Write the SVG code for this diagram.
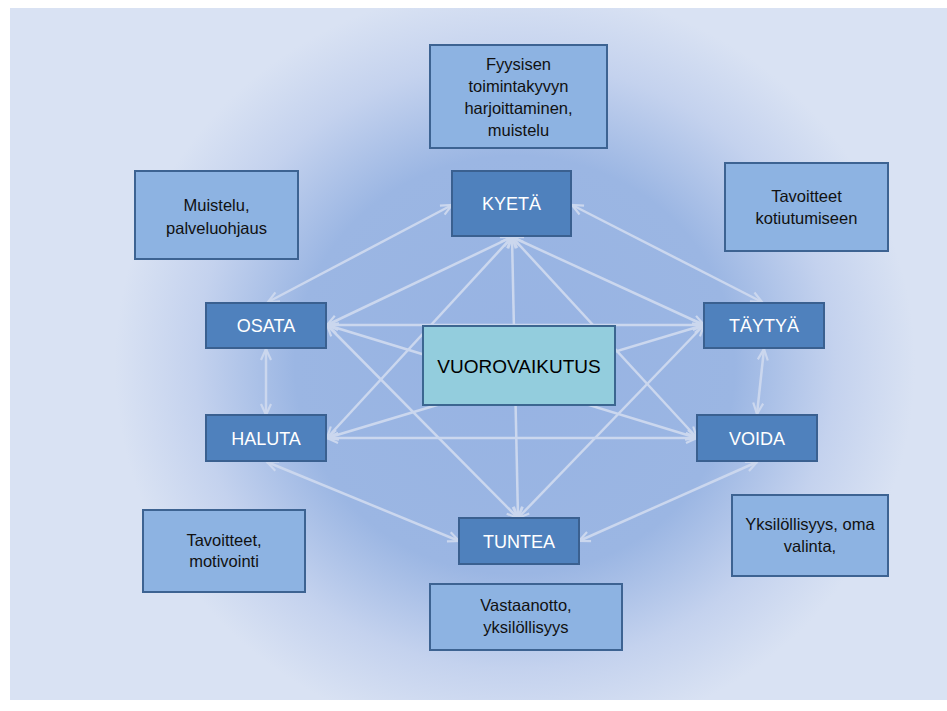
<svg xmlns="http://www.w3.org/2000/svg" width="947" height="711" viewBox="0 0 947 711">
<style>
.main{fill:#4f81bd;stroke:#3a6090;stroke-width:2}
.info{fill:#8db3e2;stroke:#3d6392;stroke-width:2}
.center{fill:#93cddd;stroke:#3c6690;stroke-width:2}
.lbl{font-family:"Liberation Sans",Arial,sans-serif;font-size:18px;fill:#ffffff;text-anchor:middle}
.clbl{font-family:"Liberation Sans",Arial,sans-serif;font-size:19px;fill:#000000;text-anchor:middle}
.itx{font-family:"Liberation Sans",Arial,sans-serif;font-size:16.5px;fill:#111111;text-anchor:middle}
.con line{stroke:#cbd7ee;stroke-width:2.5;marker-start:url(#arr);marker-end:url(#arr)}
</style>
<defs>
<radialGradient id="bg" gradientUnits="userSpaceOnUse" cx="515" cy="365" r="400" gradientTransform="translate(515 365) scale(1 0.95) translate(-515 -365)">
<stop offset="0" stop-color="#97b3e3"/>
<stop offset="0.55" stop-color="#9bb6e3"/>
<stop offset="0.8" stop-color="#c4d2ee"/>
<stop offset="1" stop-color="#d9e2f3"/>
</radialGradient>
<marker id="arr" markerUnits="userSpaceOnUse" markerWidth="14" markerHeight="14" viewBox="0 0 14 12" refX="12" refY="6" orient="auto-start-reverse">
<path d="M1,1 L12,6 L1,11" fill="none" stroke="#cbd7ee" stroke-width="2.2"/>
</marker>
</defs>
<rect x="0" y="0" width="947" height="711" fill="#ffffff"/>
<rect x="10" y="8" width="937" height="692" fill="url(#bg)"/>
<g id="connectors" class="con">
<line x1="452" y1="205" x2="268" y2="302"/>
<line x1="572" y1="205" x2="762" y2="302"/>
<line x1="266" y1="349" x2="266" y2="415"/>
<line x1="764" y1="349" x2="757" y2="414"/>
<line x1="267" y1="462" x2="459" y2="541"/>
<line x1="757" y1="462" x2="579" y2="541"/>
<line x1="512" y1="237" x2="327" y2="325"/>
<line x1="512" y1="237" x2="327" y2="438"/>
<line x1="512" y1="237" x2="518" y2="518"/>
<line x1="512" y1="237" x2="704" y2="325"/>
<line x1="512" y1="237" x2="697" y2="438"/>
<line x1="327" y1="325" x2="704" y2="325"/>
<line x1="327" y1="325" x2="697" y2="438"/>
<line x1="327" y1="325" x2="518" y2="518"/>
<line x1="327" y1="438" x2="704" y2="325"/>
<line x1="327" y1="438" x2="697" y2="438"/>
<line x1="704" y1="325" x2="518" y2="518"/>
</g>
<g id="info-kyeta"><rect class="info" x="430" y="45" width="177" height="103"/>
<text class="itx" x="518.5" y="70">Fyysisen</text><text class="itx" x="518.5" y="92">toimintakyvyn</text><text class="itx" x="518.5" y="114">harjoittaminen,</text><text class="itx" x="518.5" y="136">muistelu</text></g>
<g id="info-osata"><rect class="info" x="135" y="171" width="163" height="88"/>
<text class="itx" x="216.5" y="211">Muistelu,</text><text class="itx" x="216.5" y="234">palveluohjaus</text></g>
<g id="info-taytya"><rect class="info" x="725" y="163" width="163" height="88"/>
<text class="itx" x="806.5" y="202">Tavoitteet</text><text class="itx" x="806.5" y="224">kotiutumiseen</text></g>
<g id="info-haluta"><rect class="info" x="143" y="510" width="162" height="82"/>
<text class="itx" x="224" y="546">Tavoitteet,</text><text class="itx" x="224" y="567">motivointi</text></g>
<g id="info-voida"><rect class="info" x="732" y="495" width="156" height="81"/>
<text class="itx" x="810" y="530">Yksilöllisyys, oma</text><text class="itx" x="810" y="552">valinta,</text></g>
<g id="info-tuntea"><rect class="info" x="430" y="584" width="192" height="66"/>
<text class="itx" x="526" y="611">Vastaanotto,</text><text class="itx" x="526" y="633">yksilöllisyys</text></g>
<g id="kyeta"><rect class="main" x="452" y="171" width="119" height="65"/><text class="lbl" x="511.5" y="210">KYETÄ</text></g>
<g id="osata"><rect class="main" x="206" y="303" width="120" height="45"/><text class="lbl" x="266" y="332">OSATA</text></g>
<g id="taytya"><rect class="main" x="704" y="303" width="120" height="45"/><text class="lbl" x="764" y="332">TÄYTYÄ</text></g>
<g id="haluta"><rect class="main" x="206" y="415" width="120" height="46"/><text class="lbl" x="266" y="445">HALUTA</text></g>
<g id="voida"><rect class="main" x="697" y="415" width="120" height="46"/><text class="lbl" x="757" y="445">VOIDA</text></g>
<g id="tuntea"><rect class="main" x="459" y="518" width="120" height="46"/><text class="lbl" x="519" y="548">TUNTEA</text></g>
<g id="vuorovaikutus"><rect class="center" x="423" y="326" width="192" height="79"/><text class="clbl" x="519" y="373">VUOROVAIKUTUS</text></g>
</svg>
